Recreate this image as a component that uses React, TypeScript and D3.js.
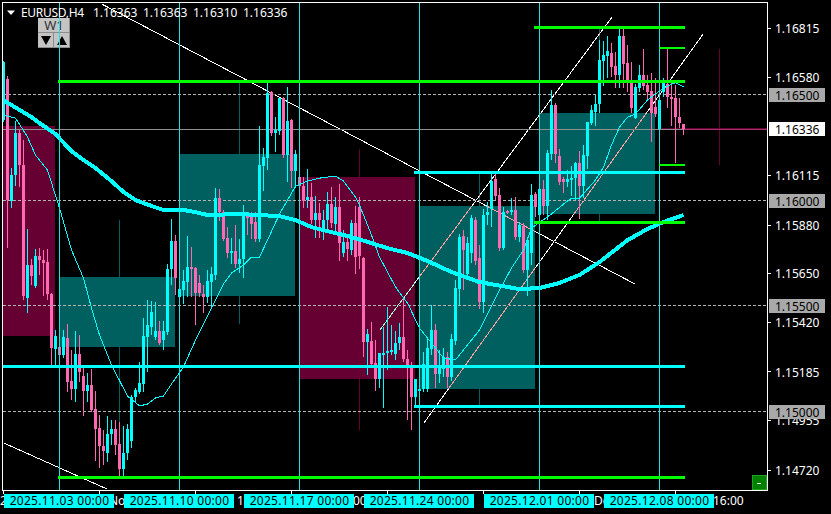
import { useEffect, useRef } from 'react'
import * as d3 from 'd3'

// all prices are in broker points (1.16336 = 116336)
const opens = [
  116379,116574,115995,116119,116318,116166,115535,115692,115592,115735,115716,115706,115554,115294,115303,115265,115346,115142,115104,115270,
  115166,115095,115123,115009,114919,114834,114801,114891,114915,114843,114725,114801,114858,115066,115090,115128,115351,115398,115351,115379,
  115336,115374,115673,115806,115540,115573,115611,115682,115678,115607,115554,115540,115611,115645,116010,115943,115820,115749,115758,115697,
  115720,115924,115919,115896,115815,116161,116199,116512,116318,116327,116483,116213,116379,116137,116109,116066,116000,116014,115905,115938,
  115867,115905,115981,115886,115967,115749,115801,115763,115891,115967,115725,115327,115332,115227,115152,115270,115275,115284,115270,115322,
  115351,115246,115208,115066,115099,115104,115104,115294,115384,115175,115199,115256,115161,115332,115578,115829,115649,115749,115905,115725,
  115517,115929,115957,116100,116024,115772,115948,115943,115953,115825,115877,115668,115749,116028,115929,116052,115972,116218,116450,116209,
  116100,116085,116095,116104,116175,116066,116209,116365,116417,116455,116659,116683,116697,116635,116592,116777,116649,116569,116389,116531,
  116592,116545,116517,116441,116337,116512,116550,116488,116483,116393,116363,
]
const highs = [
  116659,116588,116152,116374,116332,116284,115863,115720,115768,115772,115763,115768,115559,115384,115351,115384,115412,115289,115379,115360,
  115204,115180,115199,115095,114981,114910,114976,114957,114957,114948,114929,114938,115076,115109,115232,115441,115526,115521,115516,115426,
  115426,115697,115910,115834,115621,115668,115829,115777,115682,115644,115597,115668,115682,116057,116052,115953,115872,115820,115881,115815,
  115976,115938,115943,115943,116351,116246,116555,116517,116393,116483,116488,116536,116384,116237,116133,116109,116147,116081,116019,115986,
  115953,116038,116062,116014,116076,115858,115825,115905,115972,116014,115730,115389,115422,115336,115275,115398,115493,115407,115379,115417,
  115535,115289,115232,115152,115123,115280,115351,115502,115412,115289,115298,115280,115365,115621,115839,115858,115825,115929,115919,115787,
  115957,115991,116128,116128,116057,115967,115953,116009,116014,115896,115891,115825,116076,116038,116071,116095,116237,116521,116460,116242,
  116109,116142,116161,116180,116232,116261,116370,116450,116498,116758,116754,116777,116744,116701,116815,116815,116735,116654,116550,116640,
  116716,116592,116602,116578,116512,116578,116716,116559,116545,116483,116363,
]
const lows = [
  116370,115773,115962,116066,116062,115526,115464,115597,115583,115645,115545,115526,115218,115218,115232,115251,115090,115052,115043,115137,
  114976,115043,114995,114763,114730,114744,114758,114839,114791,114687,114687,114768,114824,115038,115080,115090,115185,115360,115336,115313,
  115289,115360,115597,115550,115502,115507,115540,115540,115408,115540,115464,115512,115493,115621,115900,115806,115725,115697,115678,115654,
  115630,115834,115815,115801,115801,116043,116142,116303,116228,116308,116199,116085,116057,116057,116047,115962,115962,115886,115820,115820,
  115810,115858,115867,115839,115711,115730,115711,115739,115649,115673,115256,115170,115208,115095,115109,115014,115194,115265,115242,115289,
  115232,114957,114910,115024,115090,115090,115090,115265,115109,115133,115161,115109,115142,115313,115498,115573,115621,115701,115692,115483,
  115464,115881,115872,116000,115758,115763,115934,115929,115810,115801,115654,115545,115692,115919,115858,115929,115905,116190,116175,116071,
  116033,116062,116019,116000,115910,116009,116147,116355,116351,116412,116540,116578,116583,116531,116531,116531,116512,116412,116384,116512,
  116521,116474,116275,116393,116332,116488,116436,116351,116175,116341,116310,
]
const closes = [
  116654,116000,116119,116318,116166,115545,115692,115640,115735,115716,115701,115554,115298,115355,115265,115351,115137,115104,115270,115185,
  115095,115123,115005,114915,114834,114810,114891,114915,114839,114725,114801,114915,115066,115099,115133,115355,115408,115469,115379,115322,
  115379,115673,115806,115630,115578,115616,115682,115673,115559,115559,115540,115616,115649,116010,115943,115815,115749,115758,115697,115720,
  115934,115919,115886,115815,116166,116204,116507,116318,116332,116483,116213,116374,116137,116218,116066,115995,116014,115905,115938,115905,
  115905,115981,115891,115967,115796,115801,115768,115891,115730,115735,115327,115365,115223,115152,115275,115275,115284,115289,115322,115351,
  115246,115204,115066,115152,115104,115223,115298,115384,115175,115204,115256,115161,115341,115583,115825,115763,115796,115915,115711,115517,
  115929,115943,116090,116019,115772,115943,115943,115953,115825,115881,115668,115810,116024,115967,116052,115972,116223,116450,116218,116085,
  116085,116100,116104,116175,116066,116213,116370,116427,116455,116664,116687,116706,116630,116592,116777,116645,116559,116436,116536,116592,
  116540,116512,116412,116408,116474,116554,116488,116479,116393,116365,116336,
]

// weekly candles drawn behind the H4 bars
const weekStartBars = [-16, 14, 44, 74, 104, 134, 164]
const weekOpens = [116351, 115303, 115545, 116109, 115104, 115934, 116341]
const weekHighs = [116351, 115905, 116555, 116242, 116123, 116815, 116716]
const weekLows = [115355, 114682, 115412, 114910, 115024, 115896, 116166]
const weekCloses = [115355, 115635, 116218, 115152, 115972, 116412, 116332]
const weekBarCount = 29

const slowMaBars = [0,2,7,9,13,17,20,23,27,30,33,37,40,45,48,51,59,64,69,73,77,82,87,92,96,101,106,112,119,126,129,134,139,144,149,156,161,165,170]
const slowMaValues = [
  116474,116450,116393,116365,116313,116232,116190,116152,116090,116038,116000,115972,115953,115953,115943,115929,115934,115929,115924,115905,
  115872,115848,115825,115796,115772,115749,115711,115659,115611,115588,115578,115583,115607,115645,115706,115810,115863,115896,115929,
]
const fastMaBars = [0,3,6,8,11,14,17,20,22,24,27,31,34,36,38,40,42,45,48,53,55,57,60,62,64,66,69,73,76,79,83,85,88,89,92,94,98,101,104,110,113,119,124,127,130,132,137,140,142,144,148,150,152,154,156,158,161,165,168,170]
const fastMaValues = [
  116403,116389,116299,116213,116142,115962,115763,115630,115488,115360,115218,115071,115024,115033,115062,115071,115128,115209,115336,115526,
  115602,115654,115692,115730,115730,115810,115934,116066,116090,116104,116114,116090,116014,115976,115834,115730,115588,115512,115393,115251,
  115242,115384,115573,115678,115763,115867,115934,115981,116009,116009,116095,116156,116261,116346,116393,116408,116474,116531,116557,116536,
]

// trendlines, [start bar, start price, end bar, end price]
const trendLines = [
  [24.6, 116929, 157.9, 115602],
  [0.1, 114848, 25.9, 114630],
  [94.1, 115384, 152.1, 116867],
  [105.1, 114943, 174.9, 116787],
]

// horizontal levels, [start bar, price]; they all end at the last bar
const greenLevels = [
  [13.9, 116563],
  [133, 116819],
  [164, 116721],
  [164, 116169],
  [133, 115895],
  [13.9, 114683],
]
const cyanLevels = [
  [102.9, 116133],
  [0, 115211],
  [102.9, 115019],
]

const roundLevels = [116500, 116000, 115500, 115000]
const priceTicks = [116815, 116580, 116115, 115880, 115650, 115420, 115185, 114955, 114720]
const lastPrice = 116336
const titleOhlc = ['1.16363', '1.16363', '1.16310', '1.16336']

const timeTickBars = [0, 24, 48, 72, 96, 120, 144, 168]
// only these bits of the time labels stick out between the cyan tags
const timeScraps = ['2', 'No', '1', '00', 'De', '16:00']
const timeScrapX = [0, 109, 237, 353, 594, 713]
const separatorBars = [14, 44, 74, 104, 134, 164]
const separatorLabels = ['2025.11.03 00:00', '2025.11.10 00:00', '2025.11.17 00:00', '2025.11.24 00:00', '2025.12.01 00:00', '2025.12.08 00:00']

const UP = '#00ffff'
const DOWN = '#ff69b4'
const UP_WEEK = '#005f5f'
const DOWN_WEEK = '#660033'
const FONT = '"Noto Sans", sans-serif'

export default function App() {
  const svgRef = useRef<SVGSVGElement>(null)

  useEffect(() => {
    if (!svgRef.current) return
    const svg = d3.select(svgRef.current)
    svg.selectAll('*').remove()

    const left = 3
    const right = 767
    const top = 3
    const bottom = 490

    const x = d3.scaleLinear().domain([0, 170]).range([3.5, 683.5])
    const y = d3.scaleLinear().domain([116948.5, 114625.5]).range([0, 490])
    const row = (p: number) => Math.floor(y(p)) + 0.5

    svg.append('rect').attr('width', 831).attr('height', 514).attr('fill', '#000')

    svg.append('clipPath').attr('id', 'plot')
      .append('rect').attr('x', left).attr('y', top).attr('width', right - left).attr('height', bottom - top)

    const plot = svg.append('g').attr('clip-path', 'url(#plot)').attr('shape-rendering', 'crispEdges')
    plot.append('rect').attr('x', left).attr('y', top).attr('width', right - left).attr('height', bottom - top).attr('fill', '#000')

    // weekly boxes + wicks
    weekStartBars.forEach((start, i) => {
      const color = weekCloses[i] > weekOpens[i] ? UP_WEEK : DOWN_WEEK
      const boxTop = Math.round(y(Math.max(weekOpens[i], weekCloses[i])))
      const boxBottom = Math.round(y(Math.min(weekOpens[i], weekCloses[i])))
      const mid = x(start + 15)
      plot.append('line')
        .attr('x1', mid).attr('x2', mid)
        .attr('y1', y(weekHighs[i])).attr('y2', y(weekLows[i]))
        .attr('stroke', color).attr('stroke-width', 1)
      plot.append('rect')
        .attr('x', x(start) - 0.5)
        .attr('y', boxTop)
        .attr('width', x(start + weekBarCount) - x(start))
        .attr('height', Math.max(1, boxBottom - boxTop))
        .attr('fill', color)
    })

    // round number dashes and the bid line
    roundLevels.forEach(level => {
      plot.append('line')
        .attr('x1', left).attr('x2', right)
        .attr('y1', row(level)).attr('y2', row(level))
        .attr('stroke', '#b4b4b4').attr('stroke-dasharray', '3,2')
    })
    plot.append('line')
      .attr('x1', left).attr('x2', right)
      .attr('y1', row(lastPrice)).attr('y2', row(lastPrice))
      .attr('stroke', '#8f8f8f')
    plot.append('line')
      .attr('x1', x(170)).attr('x2', right)
      .attr('y1', row(lastPrice)).attr('y2', row(lastPrice))
      .attr('stroke', '#a8336f')

    // trendlines are xor-ish in MT4, difference gives the same pink/green over the boxes
    trendLines.forEach(([b1, p1, b2, p2]) => {
      plot.append('line')
        .attr('x1', x(b1)).attr('y1', y(p1))
        .attr('x2', x(b2)).attr('y2', y(p2))
        .attr('stroke', '#fff').attr('stroke-width', 1)
        .style('mix-blend-mode', 'difference')
    })

    // H4 candles
    opens.forEach((open, i) => {
      const close = closes[i]
      const color = close >= open ? UP : DOWN
      const cx = x(i)
      plot.append('rect')
        .attr('x', cx - 0.5)
        .attr('y', Math.round(y(highs[i])))
        .attr('width', 1)
        .attr('height', Math.round(y(lows[i])) - Math.round(y(highs[i])))
        .attr('fill', color)
      const bodyTop = Math.round(y(Math.max(open, close)))
      const bodyBottom = Math.round(y(Math.min(open, close)))
      plot.append('rect')
        .attr('x', cx - 1.5)
        .attr('y', bodyTop)
        .attr('width', 3)
        .attr('height', Math.max(2, bodyBottom - bodyTop))
        .attr('fill', color)
    })

    // moving averages
    const maLine = d3.line<number>().x(d => x(d))
    const slowPath = maLine.y((_, i) => y(slowMaValues[i]))(slowMaBars)
    const fastPath = maLine.y((_, i) => y(fastMaValues[i]))(fastMaBars)
    plot.append('path').attr('d', fastPath).attr('fill', 'none').attr('stroke', UP).attr('stroke-width', 1)
    plot.append('path').attr('d', slowPath).attr('fill', 'none').attr('stroke', UP).attr('stroke-width', 4)

    // period separators
    separatorBars.forEach(bar => {
      plot.append('line')
        .attr('x1', x(bar)).attr('x2', x(bar))
        .attr('y1', top).attr('y2', bottom)
        .attr('stroke', '#22e0e0').attr('stroke-width', 1)
    })

    // key levels
    const drawLevel = (level: number[], color: string, width: number) => {
      plot.append('line')
        .attr('x1', x(level[0])).attr('x2', x(170))
        .attr('y1', row(level[1])).attr('y2', row(level[1]))
        .attr('stroke', color).attr('stroke-width', width)
        .attr('stroke-linecap', 'square')
    }
    // the two short ones on the right are a bit thinner
    greenLevels.forEach((level, i) => drawLevel(level, '#00ff00', i === 2 || i === 3 ? 2 : 3))
    cyanLevels.forEach(level => drawLevel(level, UP, 3))

    // frame and ticks
    const axes = svg.append('g').attr('shape-rendering', 'crispEdges')
    axes.append('rect')
      .attr('x', 2.5).attr('y', 2.5)
      .attr('width', right - 2.5 + 0.5).attr('height', bottom - 2)
      .attr('fill', 'none').attr('stroke', '#fff')
    priceTicks.forEach(tick => {
      axes.append('line')
        .attr('x1', 768).attr('x2', 771)
        .attr('y1', row(tick)).attr('y2', row(tick))
        .attr('stroke', '#fff')
    })
    timeTickBars.forEach(bar => {
      axes.append('line')
        .attr('x1', x(bar)).attr('x2', x(bar))
        .attr('y1', bottom).attr('y2', bottom + 4)
        .attr('stroke', '#fff')
    })

    const text = svg.append('g').attr('font-family', FONT).attr('font-size', 12)

    priceTicks.forEach(tick => {
      text.append('text')
        .attr('x', 775).attr('y', Math.round(y(tick) + 4.6))
        .attr('fill', '#fff')
        .text((tick / 100000).toFixed(5))
    })

    // round level tags sit on top of the normal ticks
    roundLevels.forEach(level => {
      const r = Math.floor(y(level))
      text.append('rect')
        .attr('x', 769).attr('y', r - 6).attr('width', 56).attr('height', 14)
        .attr('fill', '#a9a9a9')
      text.append('text')
        .attr('x', 775).attr('y', r + 6)
        .attr('fill', '#000')
        .text((level / 100000).toFixed(5))
    })
    const lastRow = Math.floor(y(lastPrice))
    text.append('rect')
      .attr('x', 769).attr('y', lastRow - 7).attr('width', 56).attr('height', 14)
      .attr('fill', '#fff')
    text.append('text')
      .attr('x', 775).attr('y', lastRow + 5)
      .attr('fill', '#000')
      .text((lastPrice / 100000).toFixed(5))

    // time axis, the cyan tags cover most of the normal labels
    timeScraps.forEach((scrap, i) => {
      text.append('text')
        .attr('x', timeScrapX[i]).attr('y', 505)
        .attr('fill', '#fff')
        .text(scrap)
    })
    separatorBars.forEach((bar, i) => {
      text.append('rect')
        .attr('x', x(bar) - 55.5).attr('y', 494).attr('width', 110).attr('height', 14)
        .attr('fill', UP)
      text.append('text')
        .attr('x', x(bar)).attr('y', 505)
        .attr('text-anchor', 'middle')
        .attr('letter-spacing', 0.28)
        .attr('fill', '#000')
        .text(separatorLabels[i])
    })

    // title
    svg.append('path').attr('d', 'M7 10.5 L15 10.5 L11 15 Z').attr('fill', '#fff')
    text.append('text').attr('x', 21).attr('y', 17).attr('fill', '#fff').attr('letter-spacing', -0.3).text('EURUSD,H4')
    titleOhlc.forEach((v, i) => {
      text.append('text').attr('x', 93 + i * 50).attr('y', 17).attr('fill', '#fff').text(v)
    })

    // W1 buttons
    const btn = svg.append('g').attr('shape-rendering', 'crispEdges')
    const button = (bx: number, by: number, w: number, h: number) => {
      btn.append('rect').attr('x', bx).attr('y', by).attr('width', w).attr('height', h).attr('fill', '#c4c4c4')
      btn.append('path')
        .attr('d', `M${bx} ${by + h - 0.5} H${bx + w - 0.5} V${by}`)
        .attr('fill', 'none').attr('stroke', '#8c8c8c')
    }
    button(38, 18, 32, 15)
    button(38, 33, 16, 15)
    button(54, 33, 16, 15)
    const overlay = svg.append('g')
    overlay.append('text')
      .attr('x', 54).attr('y', 30).attr('text-anchor', 'middle')
      .attr('font-family', FONT).attr('font-size', 13).attr('fill', '#333')
      .text('W1')
    overlay.append('path').attr('d', 'M41 36 L51 36 L46 45 Z').attr('fill', '#000')
    overlay.append('path').attr('d', 'M57 45 L67 45 L62 36 Z').attr('fill', '#000')
    overlay.append('line')
      .attr('x1', x(14)).attr('x2', x(14)).attr('y1', 18).attr('y2', 48)
      .attr('stroke', '#22e0e0').attr('shape-rendering', 'crispEdges')

    // collapse button bottom right
    const corner = svg.append('g').attr('shape-rendering', 'crispEdges')
    corner.append('rect').attr('x', 752.5).attr('y', 475.5).attr('width', 14).attr('height', 14).attr('fill', '#008000').attr('stroke', '#20a020')
    corner.append('rect').attr('x', 757).attr('y', 483).attr('width', 4).attr('height', 1).attr('fill', '#fff')
  }, [])

  return (
    <svg
      ref={svgRef}
      width={831}
      height={514}
      style={{ position: 'fixed', left: 0, top: 0, display: 'block', background: '#000' }}
    />
  )
}
